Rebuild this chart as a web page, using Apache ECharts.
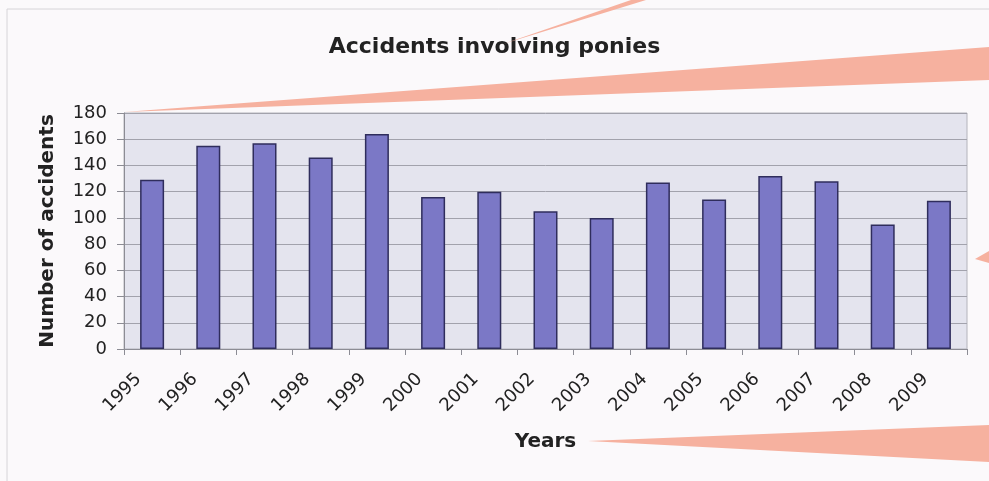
<!DOCTYPE html>
<html>
<head>
<meta charset="utf-8">
<title>Accidents involving ponies</title>
<script src="https://cdn.jsdelivr.net/npm/echarts@6/dist/echarts.min.js"></script>
<style>
    html, body { margin: 0; padding: 0; background: #fbf9fb; }
    #main { width: 989px; height: 481px; }
</style>
</head>
<body>
<div id="main"></div>
<script>
// data
const years = ['1995', '1996', '1997', '1998', '1999', '2000', '2001', '2002',
    '2003', '2004', '2005', '2006', '2007', '2008', '2009'];
const accidents = [129, 155, 157, 146, 164, 116, 120, 105, 100, 127, 114, 132, 128, 95, 113];

const FONT = '"DejaVu Sans", sans-serif';
const SALMON = '#f6b19f';

let myChart = echarts.init(document.getElementById('main'));
myChart.setOption({
    backgroundColor: '#fbf9fb',
    title: {
        text: 'Accidents involving ponies',
        left: 'center',
        top: 31,
        textStyle: { fontFamily: FONT, fontSize: 22, fontWeight: 'bold', color: '#222' }
    },
    grid: {
        left: 124, right: 22, top: 113, bottom: 132,
        show: true,
        backgroundColor: '#e4e4ee',
        borderColor: '#b4b4bc',
        borderWidth: 1
    },
    xAxis: {
        type: 'category',
        data: years,
        name: 'Years',
        nameLocation: 'middle',
        nameGap: 83,
        nameTextStyle: { fontFamily: FONT, fontSize: 20, fontWeight: 'bold', color: '#222' },
        axisLine: { lineStyle: { color: '#8c8c94' } },
        axisTick: { show: true, length: 6, lineStyle: { color: '#8c8c94' } },
        axisLabel: {
            rotate: 45, fontFamily: FONT, fontSize: 18, color: '#222',
            margin: 14, padding: [0, 19, 0, 0]
        }
    },
    yAxis: {
        type: 'value',
        min: 0,
        max: 180,
        interval: 20,
        name: 'Number of accidents',
        nameLocation: 'middle',
        nameGap: 66,
        nameTextStyle: { fontFamily: FONT, fontSize: 20, fontWeight: 'bold', color: '#222' },
        axisLine: { show: true, lineStyle: { color: '#8c8c94' } },
        axisTick: { show: true, length: 7, lineStyle: { color: '#8c8c94' } },
        axisLabel: { fontFamily: FONT, fontSize: 18, color: '#222', margin: 17 },
        splitLine: { lineStyle: { color: '#a2a2ac', width: 1 } }
    },
    series: [{
        name: 'Accidents',
        type: 'bar',
        data: accidents,
        barWidth: 24,
        itemStyle: { color: '#7b78c6', borderColor: '#2f2d5c', borderWidth: 1.5 }
    }],
    graphic: [
        {
            type: 'rect',
            shape: { x: 7, y: 9, width: 990, height: 480 },
            style: { fill: 'none', stroke: '#d6d4d8', lineWidth: 1 },
            silent: true
        },
        // salmon callout pointers laid over the scan
        { type: 'polygon', shape: { points: [[503, 44], [631, 0], [646, 0]] }, style: { fill: SALMON }, silent: true, z: 100 },
        { type: 'polygon', shape: { points: [[124, 112], [989, 47], [989, 80]] }, style: { fill: SALMON }, silent: true, z: 100 },
        { type: 'polygon', shape: { points: [[975, 259], [989, 251], [989, 263]] }, style: { fill: SALMON }, silent: true, z: 100 },
        { type: 'polygon', shape: { points: [[588, 441], [989, 425], [989, 462]] }, style: { fill: SALMON }, silent: true, z: 100 }
    ]
});
</script>
</body>
</html>
